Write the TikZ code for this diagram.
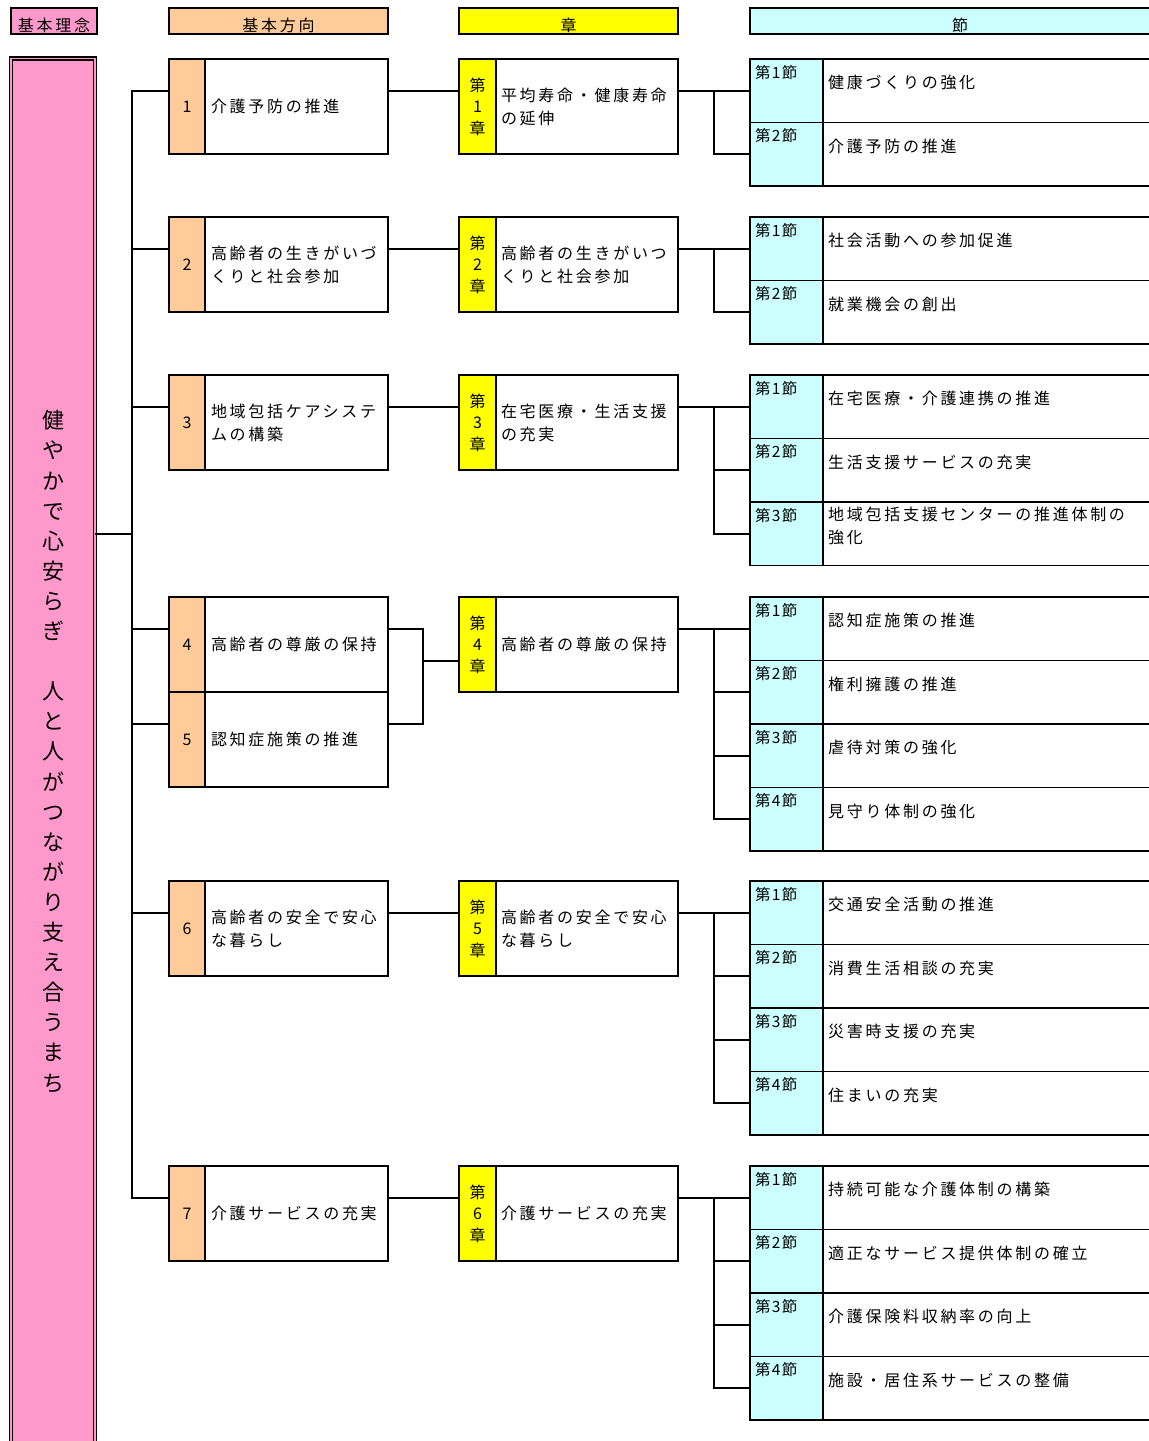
\documentclass[tikz,border=0pt]{standalone}
\usepackage{fontspec}
\setmainfont{Noto Sans CJK JP}
\newfontfamily\jpfont[LetterSpace=17]{Noto Sans CJK JP}
\newfontfamily\secfont[LetterSpace=8]{Noto Sans CJK JP}
\usetikzlibrary{positioning}

\definecolor{rinenpink}{HTML}{FF99CC}
\definecolor{houkouorange}{HTML}{FFCC99}
\definecolor{shouyellow}{HTML}{FFFF00}
\definecolor{setsucyan}{HTML}{CCFFFF}

\begin{document}
\begin{tikzpicture}[
  x=1pt, y=-1pt,
  cell/.style={draw, line width=1.8pt, inner sep=0pt, outer sep=0pt, anchor=north west},
  hdr/.style={cell, minimum height=26pt},
  numcell/.style={cell, minimum width=36pt, minimum height=95pt, align=center,
    font=\jpfont\fontsize{16}{21.5}\selectfont},
  txtcell/.style={cell, minimum height=95pt, inner xsep=6pt, align=left,
    font=\jpfont\fontsize{16}{23}\selectfont},
  lbl/.style={inner sep=0pt, align=left, font=\jpfont\fontsize{16}{23}\selectfont},
  seclbl/.style={inner sep=0pt, font=\secfont\fontsize{15.5}{20}\selectfont},
  conn/.style={line width=1.8pt}
]
  \useasboundingbox (0,0) rectangle (1149,1441);
  \clip (0,0) rectangle (1149,1441);

  % headers
  \node[hdr, fill=rinenpink, minimum width=86pt] (hRinen) at (11,8) {};
  \node[hdr, fill=houkouorange, minimum width=219pt] (hHoukou) at (169,8) {};
  \node[hdr, fill=shouyellow, minimum width=219pt] (hShou) at (459,8) {};
  \node[hdr, fill=setsucyan, minimum width=420pt] (hSetsu) at (750,8) {};
  \foreach \h/\t in {hRinen/基本理念, hHoukou/基本方向, hShou/章, hSetsu/節}
    \node[lbl, anchor=south] (\h-t) at ([yshift=1pt]\h.south) {\t};

  % basic philosophy
  \node[cell, double=rinenpink, double distance=1.6pt, line width=1.6pt, fill=rinenpink,
    minimum width=84pt, minimum height=1386pt, align=center,
    font=\fontsize{22}{30.1}\selectfont] (rinen) at (11,58.5)
    {健\\や\\か\\で\\心\\安\\ら\\ぎ\\　\\人\\と\\人\\が\\つ\\な\\が\\り\\支\\え\\合\\う\\ま\\ち};

  % basic directions
  \foreach \i/\y/\t in {1/59/{介護予防の推進}, 2/217/{高齢者の生きがいづ\\くりと社会参加},
      3/375/{地域包括ケアシステ\\ムの構築}, 4/597/{高齢者の尊厳の保持}, 5/692/{認知症施策の推進},
      6/881/{高齢者の安全で安心\\な暮らし}, 7/1166/{介護サービスの充実}}{
    \node[numcell, fill=houkouorange] (dn\i) at (169,\y) {\i};
    \node[txtcell, text width=171pt] (dt\i) at (dn\i.north east) {\t};
    \coordinate (a\i) at ([yshift=-32pt]dn\i.north west);
  }

  % chapters
  \foreach \i/\y/\t in {1/59/{平均寿命・健康寿命\\の延伸}, 2/217/{高齢者の生きがいつ\\くりと社会参加},
      3/375/{在宅医療・生活支援\\の充実}, 4/597/{高齢者の尊厳の保持},
      5/881/{高齢者の安全で安心\\な暮らし}, 6/1166/{介護サービスの充実}}{
    \node[numcell, fill=shouyellow, minimum width=37pt] (cn\i) at (459,\y) {第\\\i\\章};
    \node[txtcell, text width=172pt, inner xsep=5pt] (ct\i) at (cn\i.north east) {\t};
  }

  % sections
  \coordinate (br) at (714,0);
  \foreach \g/\y/\secs in {1/59/{健康づくりの強化,介護予防の推進},
      2/217/{社会活動への参加促進,就業機会の創出},
      3/375/{在宅医療・介護連携の推進,生活支援サービスの充実,{地域包括支援センターの推進体制の\\強化}},
      4/597/{認知症施策の推進,権利擁護の推進,虐待対策の強化,見守り体制の強化},
      5/881/{交通安全活動の推進,消費生活相談の充実,災害時支援の充実,住まいの充実},
      6/1166/{持続可能な介護体制の構築,適正なサービス提供体制の確立,介護保険料収納率の向上,施設・居住系サービスの整備}}{
    \foreach \s [count=\k] in \secs {
      \node[cell, fill=setsucyan, minimum width=73pt, minimum height=63.5pt] (sl\g-\k) at (750,{\y+(\k-1)*63.5}) {};
      \node[cell, minimum width=340pt, minimum height=63.5pt] (st\g-\k) at (sl\g-\k.north east) {};
      \node[seclbl, anchor=north west] (sn\g-\k) at ([shift={(5pt,-6pt)}]sl\g-\k.north west) {第\k 節};
      \node[lbl, anchor=west] (sx\g-\k) at ([shift={(5pt,8pt)}]st\g-\k.west) {\s};
      \pgfmathtruncatemacro\p{\k-1}
      \ifnum\k=1
        \draw[conn] (ct\g.east |- sl\g-1.west) -- (sl\g-1.west);
      \else
        \draw[conn] (br |- sl\g-\p.west) -- (br |- sl\g-\k.west) -- (sl\g-\k.west);
      \fi
    }
  }

  % trunk
  \coordinate (trk) at (132,534);
  \draw[conn] (a1) -- (trk |- a1) -- (trk |- a7) -- (a7);
  \foreach \i in {2,...,6} \draw[conn] (trk |- a\i) -- (a\i);
  \draw[conn] (rinen.east |- trk) -- (trk);

  % directions to chapters
  \foreach \d/\c in {1/1, 2/2, 3/3, 6/5, 7/6}
    \draw[conn] (dt\d.east |- a\d) -- (cn\c.west |- a\d);
  \coordinate (brk) at (423,661);
  \draw[conn] (dt4.east |- a4) -| (brk |- a5) -- (dt5.east |- a5);
  \draw[conn] (brk) -- (cn4.west |- brk);
\end{tikzpicture}
\end{document}
